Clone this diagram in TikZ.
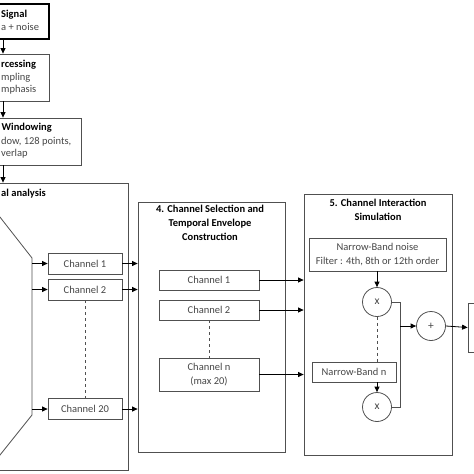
\documentclass[tikz,border=0pt]{standalone}
\usepackage{fontspec}
\setmainfont{Carlito}
\usepackage{tikz}
\usetikzlibrary{positioning}
\usetikzlibrary{arrows.meta}

\definecolor{linegray}{RGB}{80,80,80}
\definecolor{textgray}{RGB}{70,70,70}

\begin{document}
\begin{tikzpicture}	[
		x=1pt,y=-1pt,
		font=\fontsize{10.5}{14}\selectfont,
		box/.style={draw=linegray, line width=0.8pt, inner sep=0, align=center, text=textgray},
		stage/.style={draw=linegray, line width=0.8pt, inner sep=0},
		title/.style={font=\fontsize{10.5}{14}\selectfont\bfseries, align=center, inner sep=0},
		cut/.style={anchor=west, inner sep=0, text=textgray},
		cutbold/.style={cut, font=\fontsize{10.5}{14}\selectfont\bfseries, text=black},
		mult/.style={circle, draw=linegray, line width=0.8pt, minimum size=29pt, inner sep=0, text=textgray, font=\fontsize{11.5}{14}\selectfont},
		arr/.style={-{Triangle[length=5.5pt,width=5pt]}, line width=0.8pt, draw=black},
		wire/.style={line width=0.8pt, draw=linegray}
	]
		\useasboundingbox (0,0) rectangle (474,474);

		% stages cut at the left edge
		\node[stage, line width=2pt, draw=black, minimum width=110pt, minimum height=35pt] (sig) at (-6,21.5) {};
		\node[stage, minimum width=110pt, minimum height=47pt] (proc) at (-6,77.5) {};
		\node[stage, minimum width=140pt, minimum height=47pt] (win) at (11,141.5) {};
		\node[stage, minimum width=190pt, minimum height=287pt] (ana) at (33,326.5) {};
		\coordinate (ax) at (3,0);

		\node[cutbold] (sigA) at (1,15) {Signal};
		\node[cut] (sigB) at (1,27) {a + noise};
		\node[cutbold] (procA) at (1,65) {rcessing};
		\node[cut] (procB) at (1,78) {mpling};
		\node[cut] (procC) at (1,90) {mphasis};
		\node[cutbold] (winA) at (1.5,128) {Windowing};
		\node[cut] (winB) at (1,142) {dow, 128 points,};
		\node[cut] (winC) at (1,154) {verlap};
		\node[cutbold] (anaA) at (1,194) {al analysis};

		\draw[arr] (sig.south -| ax) -- (proc.north -| ax);
		\draw[arr] (proc.south -| ax) -- (win.north -| ax);
		\draw[arr] (win.south -| ax) -- (ana.north -| ax);

		% filter bank
		\coordinate (fbA) at (-4,212);
		\coordinate (fbB) at (32,258);
		\coordinate (fbC) at (32,415);
		\coordinate (fbD) at (-4,460);
		\draw[wire] (fbA) -- (fbB) -- (fbC) -- (fbD);

		\node[box, minimum width=74pt, minimum height=21pt] (a1) at (85,263.5) {Channel 1};
		\node[box, minimum width=74pt, minimum height=21pt] (a2) at (85,289.5) {Channel 2};
		\node[box, minimum width=74pt, minimum height=21pt] (a20) at (85,409) {Channel 20};
		\draw[wire, dashed] (a2.south) -- (a20.north);
		\foreach \ch in {a1,a2,a20}
			\draw[arr] (\ch.west -| fbB) -- (\ch.west);

		% 4. channel selection
		\node[stage, minimum width=147pt, minimum height=250pt] (sel) at (211.5,327) {};
		\node[title, anchor=north] (selT) at (210,205) {4. Channel Selection and\\Temporal Envelope\\Construction};
		\foreach \ch in {a1,a2,a20}
			\draw[arr] (\ch.east) -- (\ch.east -| sel.west);

		\node[box, minimum width=100pt, minimum height=20pt] (c1) at (209,280) {Channel 1};
		\node[box, minimum width=100pt, minimum height=20pt] (c2) at (209,310) {Channel 2};
		\node[box, minimum width=100pt, minimum height=33pt] (cn) at (209,374.5) {Channel n\\(max 20)};
		\draw[wire, dashed] (c2.south) -- (cn.north);

		% 5. channel interaction
		\node[stage, minimum width=148pt, minimum height=261pt] (sim) at (378,324.5) {};
		\node[title, anchor=north] (simT) at (378,199) {5. Channel Interaction\\Simulation};
		\foreach \ch in {c1,c2,cn}
			\draw[arr] (\ch.east) -- (\ch.east -| sim.west);

		\node[box, minimum width=137pt, minimum height=33pt] (nb) at (377.5,254.5) {Narrow-Band noise\\Filter : 4th, 8th or 12th order};
		\node[mult] (x1) at (377,302) {x};
		\node[box, minimum width=84pt, minimum height=20pt] (nbn) at (354,372) {Narrow-Band n};
		\node[mult] (x2) at (377,407) {x};
		\node[mult] (sum) at (431,326) {+};
		\coordinate (bus) at (400,326);

		\draw[arr] (nb.south -| x1) -- (x1.north);
		\draw[wire, dashed] (x1.south) -- (nbn.north -| x1);
		\draw[arr] (nbn.south -| x2) -- (x2.north);
		\draw[wire] (x1.east) -- (x1.east -| bus) -- (x2.east -| bus) -- (x2.east);
		\draw[arr] (bus) -- (sum.west);

		% output
		\node[stage, minimum width=40pt, minimum height=49pt] (out) at (488,327.5) {};
		\draw[arr] (sum.east) -- (out.west);
	\end{tikzpicture}
\end{document}
